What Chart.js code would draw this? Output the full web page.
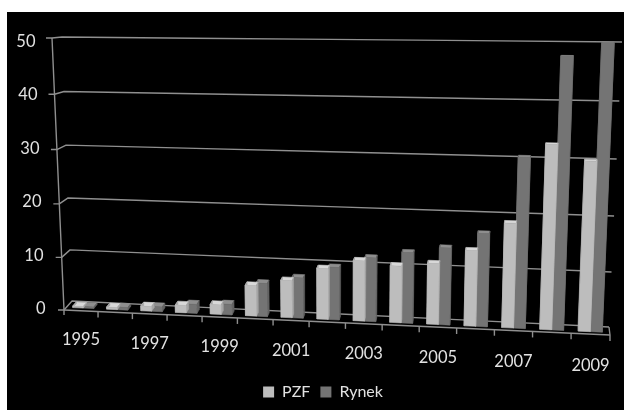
<!DOCTYPE html>
<html>
<head>
<meta charset="utf-8">
<style>
  html, body { margin: 0; padding: 0; background: #fff; }
  #panel { position: absolute; left: 7px; top: 12px; width: 617px; height: 398px; background: #000; }
  #chart { position: absolute; left: 0; top: 0; }
</style>
<script src="https://cdn.jsdelivr.net/npm/chart.js@4"></script>
</head>
<body>
<div id="panel"></div>
<canvas id="chart" width="624" height="410"></canvas>
<script>
const years = ['1995','1996','1997','1998','1999','2000','2001','2002','2003','2004','2005','2006','2007','2008','2009'];
const pzf   = [0.3, 0.4, 0.9, 1.4, 1.8, 5.7, 6.9, 9.4, 11.1, 10.4, 11.1, 13.7, 18.8, 32.7, 30.0];
const rynek = [0.3, 0.5, 0.9, 1.7, 2.0, 6.2, 7.5, 9.7, 11.7, 12.9, 14.0, 16.8, 30.4, 47.7, 50.0];

const TEXT = '#e2e2e2';
const GRID = '#8f8f8f';
const FONT = 'Lato';

// Build a perspective map from the unit square onto a quad (BL, BR, TR, TL).
function homography(q) {
  const [x0, y0] = q[0], [x1, y1] = q[1], [x2, y2] = q[2], [x3, y3] = q[3];
  const dx1 = x1 - x2, dx2 = x3 - x2, sx = x0 - x1 + x2 - x3;
  const dy1 = y1 - y2, dy2 = y3 - y2, sy = y0 - y1 + y2 - y3;
  const det = dx1 * dy2 - dx2 * dy1;
  const g = (sx * dy2 - dx2 * sy) / det;
  const h = (dx1 * sy - sx * dy1) / det;
  const a = x1 - x0 + g * x1, b = x3 - x0 + h * x3;
  const d = y1 - y0 + g * y1, e = y3 - y0 + h * y3;
  return (u, v) => {
    const w = g * u + h * v + 1;
    return [(a * u + b * v + x0) / w, (d * u + e * v + y0) / w];
  };
}

// Front and back planes of the tilted plot box.
const frontPlane = homography([[64, 310], [610, 335], [622, 43], [52, 38]]);
const backPlane  = homography([[72, 301], [609, 327], [622, 42], [62, 37]]);

// depth 0 is the front plane, depth 1 the back wall
function project(u, v, depth) {
  const f = frontPlane(u, v), b = backPlane(u, v);
  return [f[0] + (b[0] - f[0]) * depth, f[1] + (b[1] - f[1]) * depth];
}

function polygon(ctx, pts, fill) {
  ctx.beginPath();
  pts.forEach((p, i) => i ? ctx.lineTo(p[0], p[1]) : ctx.moveTo(p[0], p[1]));
  ctx.closePath();
  ctx.fillStyle = fill;
  ctx.fill();
  ctx.lineWidth = 0.6;
  ctx.strokeStyle = fill;
  ctx.stroke();
}

function line(ctx, pts) {
  ctx.beginPath();
  pts.forEach((p, i) => i ? ctx.lineTo(p[0], p[1]) : ctx.moveTo(p[0], p[1]));
  ctx.stroke();
}

// Bars are drawn as small boxes standing inside the tilted plot box.
const shades = {
  '#bdbdbd': { top: '#d8d8d8', side: '#a4a4a4' },
  '#747474': { top: '#8e8e8e', side: '#626262' }
};
const NEAR = 0.3, FAR = 0.75;
let plotArea = null;
Chart.BarElement.prototype.draw = function (ctx) {
  const { x, y, base, width } = this.getProps(['x', 'y', 'base', 'width']);
  const area = plotArea;
  const toU = px => (px - area.left) / (area.right - area.left);
  const toV = py => (area.bottom - py) / (area.bottom - area.top);
  const ul = toU(x - width / 2), ur = toU(x + width / 2), vt = toV(y), vb = toV(base);
  const color = this.options.backgroundColor;
  const s = shades[color];
  polygon(ctx, [project(ul, vt, NEAR), project(ur, vt, NEAR), project(ur, vt, FAR), project(ul, vt, FAR)], s.top);
  polygon(ctx, [project(ur, vb, NEAR), project(ur, vb, FAR), project(ur, vt, FAR), project(ur, vt, NEAR)], s.side);
  polygon(ctx, [project(ul, vb, NEAR), project(ul, vb, FAR), project(ul, vt, FAR), project(ul, vt, NEAR)], s.side);
  polygon(ctx, [project(ul, vb, NEAR), project(ur, vb, NEAR), project(ur, vt, NEAR), project(ul, vt, NEAR)], color);
};

const tiltedAxes = {
  id: 'tiltedAxes',
  beforeDatasetsDraw(chart) {
    const { ctx, chartArea: area, scales: { x, y } } = chart;
    plotArea = area;
    const toV = py => (area.bottom - py) / (area.bottom - area.top);
    ctx.save();
    ctx.strokeStyle = GRID;
    ctx.lineWidth = 1.4;
    ctx.lineJoin = 'round';
    // wall lines with their short run along the left side and the tick stub
    y.ticks.forEach(t => {
      const v = toV(y.getPixelForValue(t.value));
      const f = project(0, v, 0), b = project(0, v, 1);
      line(ctx, [[f[0] - 6, f[1]], f, b, project(0.25, v, 1), project(0.5, v, 1), project(0.75, v, 1), project(1, v, 1)]);
    });
    // right edge of the floor
    line(ctx, [project(1, 0, 1), project(1, 0, 0), [project(1, 0, 0)[0], project(1, 0, 0)[1] + 6]]);
    // vertical axis and front floor edge
    line(ctx, [project(0, 1, 0), project(0, 0, 0), [project(0, 0, 0)[0], project(0, 0, 0)[1] + 5]]);
    line(ctx, [project(0, 0, 0), project(1, 0, 0)]);
    // category ticks on the front edge
    const step = 1 / x.ticks.length;
    x.ticks.forEach((t, i) => {
      if (i === 0) return;
      const p = project(i * step, 0, 0);
      line(ctx, [p, [p[0], p[1] + 6]]);
    });
    ctx.restore();
  },
  afterDraw(chart) {
    const { ctx, chartArea: area, scales: { x, y } } = chart;
    const toV = py => (area.bottom - py) / (area.bottom - area.top);
    ctx.save();
    ctx.fillStyle = TEXT;
    ctx.font = '16.5px ' + FONT;
    ctx.textBaseline = 'middle';
    ctx.textAlign = 'right';
    y.ticks.forEach(t => {
      const v = toV(y.getPixelForValue(t.value));
      ctx.fillText(t.label, 45.5 - 10 * v, 309 - 267.5 * v);
    });
    ctx.textAlign = 'center';
    const step = 1 / x.ticks.length;
    x.ticks.forEach((t, i) => {
      if (i % 2) return;
      const a = project(i * step, 0, 0), b = project((i + 1) * step, 0, 0);
      const mid = project((i + 0.5) * step, -0.105, 0);
      ctx.fillText(x.getLabelForValue(t.value), (a[0] + b[0]) / 2, mid[1] + 2);
    });
    ctx.restore();
  }
};

new Chart(document.getElementById('chart'), {
  type: 'bar',
  data: {
    labels: years,
    datasets: [
      { label: 'PZF', data: pzf, backgroundColor: '#bdbdbd', clip: false },
      { label: 'Rynek', data: rynek, backgroundColor: '#747474', clip: false }
    ]
  },
  options: {
    responsive: false,
    animation: false,
    devicePixelRatio: 1,
    layout: { padding: { left: 41, right: 19, top: 38, bottom: 0 } },
    datasets: { bar: { categoryPercentage: 0.62, barPercentage: 1 } },
    scales: {
      x: {
        grid: { display: false }, border: { display: false },
        ticks: { display: false, autoSkip: false }
      },
      y: {
        min: 0, max: 50,
        grid: { display: false }, border: { display: false },
        ticks: { display: false, stepSize: 10 }
      }
    },
    plugins: {
      tooltip: { enabled: false },
      legend: {
        position: 'bottom',
        labels: {
          color: TEXT, boxWidth: 11, boxHeight: 11, padding: 10,
          font: { family: FONT, size: 16 }
        }
      }
    }
  },
  plugins: [tiltedAxes]
});
</script>
</body>
</html>
